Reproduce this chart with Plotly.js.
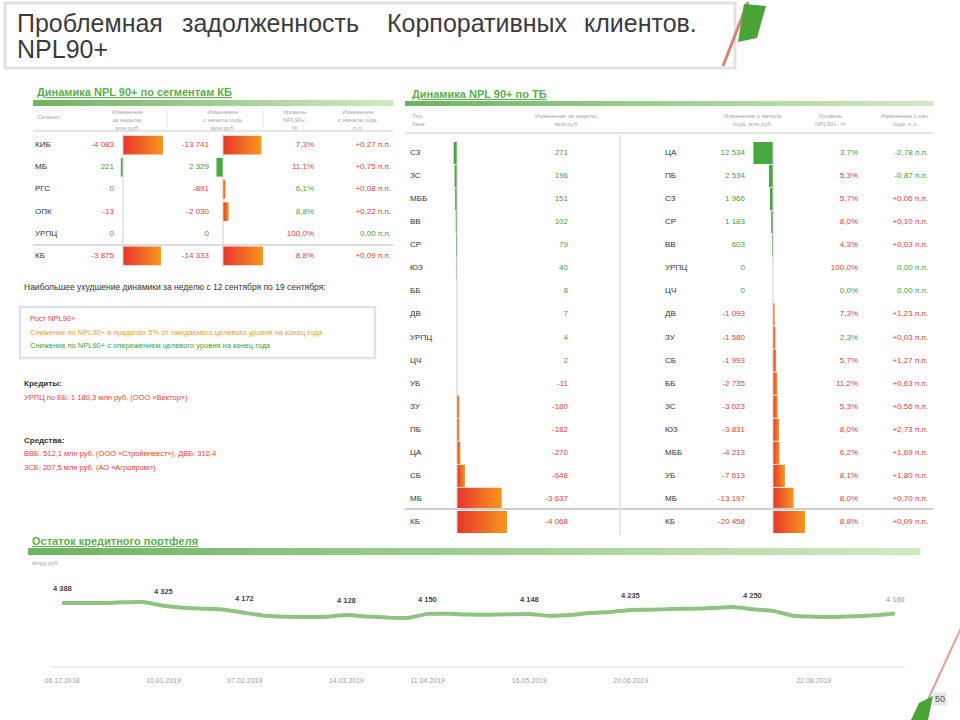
<!DOCTYPE html>
<html>
<head>
<meta charset="utf-8">
<script src="https://cdn.plot.ly/plotly-3.0.1.min.js"></script>
<style>
html, body { margin: 0; padding: 0; background: #fff; }
#chart_div { width: 960px; height: 720px; }
</style>
</head>
<body>
<div id="chart_div"></div>
<script>
// ---- segment table (Динамика NPL 90+ по сегментам КБ)
var segLabels = ['КИБ', 'МБ', 'РГС', 'ОПК', 'УРПЦ', 'КБ'];
var segWeek = [-4083, 221, 0, -13, 0, -3875];
var segYtd = [-13741, 2329, -891, -2030, 0, -14333];
var segShare = [7.3, 11.1, 6.1, 8.8, 100.0, 8.8];
var segShareGood = [0, 0, 1, 1, 0, 0];
var segShareChg = [0.27, 0.75, 0.08, 0.22, 0.00, 0.09];

// ---- territorial banks table (Динамика NPL 90+ по ТБ)
var tbWeekLabels = ['СЗ', 'ЗС', 'МББ', 'ВВ', 'СР', 'ЮЗ', 'ББ', 'ДВ', 'УРПЦ', 'ЦЧ', 'УБ', 'ЗУ', 'ПБ', 'ЦА', 'СБ', 'МБ', 'КБ'];
var tbWeek = [271, 196, 151, 102, 79, 40, 8, 7, 4, 2, -11, -180, -182, -270, -648, -3637, -4068];
var tbYtdLabels = ['ЦА', 'ПБ', 'СЗ', 'СР', 'ВВ', 'УРПЦ', 'ЦЧ', 'ДВ', 'ЗУ', 'СБ', 'ББ', 'ЗС', 'ЮЗ', 'МББ', 'УБ', 'МБ', 'КБ'];
var tbYtd = [12534, 2534, 1966, 1183, 603, 0, 0, -1093, -1580, -1993, -2735, -3023, -3831, -4213, -7613, -13197, -20458];
var tbShare = [3.7, 5.3, 5.7, 8.0, 4.3, 100.0, 0.0, 7.3, 2.3, 5.7, 11.2, 5.3, 8.0, 6.2, 8.1, 8.0, 8.8];
var tbShareGood = [1, 0, 0, 0, 0, 0, 1, 0, 1, 0, 0, 0, 0, 0, 0, 0, 0];
var tbShareChg = [-2.78, -0.87, 0.06, 0.10, 0.03, 0.00, 0.00, 1.23, 0.03, 1.27, 0.63, 0.56, 2.73, 1.69, 1.80, 0.70, 0.09];

// ---- loan portfolio (Остаток кредитного портфеля), млрд руб.
var portfolioDates = ['06.12.2018', '13.12.2018', '20.12.2018', '27.12.2018', '03.01.2019', '10.01.2019',
  '17.01.2019', '24.01.2019', '31.01.2019', '07.02.2019', '14.02.2019', '21.02.2019', '28.02.2019',
  '07.03.2019', '14.03.2019', '21.03.2019', '28.03.2019', '04.04.2019', '11.04.2019', '18.04.2019',
  '25.04.2019', '02.05.2019', '09.05.2019', '16.05.2019', '23.05.2019', '30.05.2019', '06.06.2019',
  '13.06.2019', '20.06.2019', '27.06.2019', '04.07.2019', '11.07.2019', '18.07.2019', '25.07.2019',
  '01.08.2019', '08.08.2019', '15.08.2019', '22.08.2019', '29.08.2019', '05.09.2019', '12.09.2019', '19.09.2019'];
var portfolioValues = [4388, 4385, 4384, 4402, 4405, 4325, 4282, 4262, 4238, 4172, 4110, 4088, 4085,
  4090, 4128, 4092, 4070, 4063, 4150, 4152, 4135, 4131, 4140, 4148, 4108, 4125, 4170, 4190, 4235,
  4240, 4255, 4262, 4275, 4298, 4250, 4215, 4110, 4090, 4085, 4100, 4120, 4160];
var portfolioLabelDates = ['06.12.2018', '10.01.2019', '07.02.2019', '14.03.2019', '11.04.2019',
  '16.05.2019', '20.06.2019', '01.08.2019', '19.09.2019'];
var portfolioTickDates = ['06.12.2018', '10.01.2019', '07.02.2019', '14.03.2019', '11.04.2019',
  '16.05.2019', '20.06.2019', '22.08.2019'];

var FONT = 'Liberation Sans, Arial, sans-serif';
var RED = '#e8403a', GREEN = '#3fa33a', DARK = '#333333', GREY = '#a8a8a8';

function px(x) { return x / 960; }
function py(y) { return 1 - y / 720; }
function idx(arr) { return arr.map(function (_, i) { return i; }); }
function fmtNum(v) {
  var s = Math.abs(v).toString().replace(/\B(?=(\d{3})+(?!\d))/g, ' ');
  return (v < 0 ? '-' : '') + s;
}
function fmtPct(v) { return v.toFixed(1).replace('.', ',') + '%'; }
function fmtPp(v) { return (v > 0 ? '+' : '') + v.toFixed(2).replace('.', ',') + ' п.п.'; }
function signColors(arr) { return arr.map(function (v) { return v >= 0 ? GREEN : RED; }); }
function ppColors(arr) { return arr.map(function (v) { return v > 0 ? RED : GREEN; }); }
function flagColors(arr) { return arr.map(function (f) { return f ? GREEN : RED; }); }

var data = [];

function textCol(xPos, ya, texts, colors, pos) {
  data.push({
    type: 'scatter', mode: 'text', xaxis: 'x', yaxis: ya,
    x: texts.map(function () { return xPos; }), y: idx(texts),
    text: texts, textposition: pos,
    textfont: { family: FONT, size: 8, color: colors },
    hoverinfo: 'skip', cliponaxis: false
  });
}

function bars(values, xa, ya, half) {
  values.forEach(function (v, i) {
    if (v === 0) return;
    var t = {
      type: 'scatter', mode: 'lines', xaxis: xa, yaxis: ya,
      x: [0, v, v, 0, 0], y: [i - half, i - half, i + half, i + half, i - half],
      fill: 'toself', line: { width: 0, color: 'rgba(0,0,0,0)' }, hoverinfo: 'skip'
    };
    if (v > 0) {
      t.fillcolor = '#46a83f';
    } else {
      // red next to the zero line, orange at the tip
      t.fillcolor = '#ee5a28';
      t.fillgradient = { type: 'horizontal', colorscale: [[0, '#e8352b'], [1, '#f7961e']] };
    }
    data.push(t);
  });
}

function barAxis(x0, zero, x1, widthPx, values, ya) {
  var maxAbs = Math.max.apply(null, values.map(Math.abs));
  var ppu = widthPx / maxAbs;
  return { domain: [px(x0), px(x1)], range: [(zero - x0) / ppu, -(x1 - zero) / ppu],
           anchor: ya, visible: false, fixedrange: true };
}

// left table
bars(segWeek, 'x2', 'y', 0.42);
bars(segYtd, 'x3', 'y', 0.42);
textCol(35, 'y', segLabels, DARK, 'middle right');
textCol(114, 'y', segWeek.map(fmtNum), signColors(segWeek), 'middle left');
textCol(209, 'y', segYtd.map(fmtNum), signColors(segYtd), 'middle left');
textCol(314, 'y', segShare.map(fmtPct), flagColors(segShareGood), 'middle left');
textCol(391, 'y', segShareChg.map(fmtPp), ppColors(segShareChg), 'middle left');

// right table
bars(tbWeek, 'x4', 'y2', 0.48);
bars(tbYtd, 'x5', 'y2', 0.48);
textCol(410, 'y2', tbWeekLabels, DARK, 'middle right');
textCol(568, 'y2', tbWeek.map(fmtNum), signColors(tbWeek), 'middle left');
textCol(665, 'y2', tbYtdLabels, DARK, 'middle right');
textCol(745, 'y2', tbYtd.map(fmtNum), signColors(tbYtd), 'middle left');
textCol(858, 'y2', tbShare.map(fmtPct), flagColors(tbShareGood), 'middle left');
textCol(928, 'y2', tbShareChg.map(fmtPp), ppColors(tbShareChg), 'middle left');

// portfolio line
data.push({
  type: 'scatter', mode: 'lines', xaxis: 'x6', yaxis: 'y3',
  x: portfolioDates, y: portfolioValues,
  line: { color: '#8dc482', width: 4, shape: 'spline', smoothing: 0.5 },
  hoverinfo: 'skip', cliponaxis: false
});

var shapes = [];
var annotations = [];

function rect(x0, y0, x1, y1, fill, lineColor, lw) {
  shapes.push({ type: 'rect', xref: 'paper', yref: 'paper', x0: px(x0), x1: px(x1), y0: py(y0), y1: py(y1),
    fillcolor: fill, line: { color: lineColor || 'rgba(0,0,0,0)', width: lw || 0 }, layer: 'below' });
}
function line(x0, y0, x1, y1, color, w) {
  shapes.push({ type: 'line', xref: 'paper', yref: 'paper', x0: px(x0), x1: px(x1), y0: py(y0), y1: py(y1),
    line: { color: color, width: w } });
}
function path(d, fill) {
  var p = d.replace(/(-?\d+(\.\d+)?) (-?\d+(\.\d+)?)/g, function (m, a, b, c) {
    return px(+a).toFixed(5) + ',' + py(+c).toFixed(5);
  });
  shapes.push({ type: 'path', xref: 'paper', yref: 'paper', path: p, fillcolor: fill, line: { width: 0 } });
}
function band(x0, x1, y0, y1) {
  var n = 24, c0 = [112, 180, 98], c1 = [208, 232, 194];
  for (var k = 0; k < n; k++) {
    var t = k / (n - 1);
    var c = c0.map(function (v, j) { return Math.round(v + (c1[j] - v) * t); });
    rect(x0 + (x1 - x0) * k / n, y0, x0 + (x1 - x0) * (k + 1) / n + 0.5, y1, 'rgb(' + c.join(',') + ')');
  }
}
function note(text, x, y, opts) {
  opts = opts || {};
  annotations.push({
    xref: 'paper', yref: 'paper', x: px(x), y: py(y), text: text, showarrow: false,
    xanchor: opts.xanchor || 'left', yanchor: opts.yanchor || 'middle', align: opts.align || 'left',
    font: { family: FONT, size: opts.size || 8, color: opts.color || DARK }
  });
}

// title box and decorations
rect(5, 3, 735, 68, '#ffffff', '#e2e2e2', 3);
var titleWords = [['Проблемная', 15], ['задолженность', 180], ['Корпоративных', 385], ['клиентов.', 582]];
titleWords.forEach(function (w) { note(w[0], w[1], 23, { size: 25, color: '#3c3c3c' }); });
note('NPL90+', 15, 49, { size: 25, color: '#3c3c3c' });
line(748, 2, 723, 66, '#d9826f', 3);
path('M 744 4 L 766 6 L 757 38 L 738 42 Z', '#4aa336');
line(962, 626, 925, 706, '#e3a090', 2);
path('M 911 720 L 919 703 L 933 696 L 928 720 Z', '#4aa336');
annotations.push({ xref: 'paper', yref: 'paper', x: px(947), y: py(706), text: '50', showarrow: false,
  font: { family: FONT, size: 9, color: '#555' }, bgcolor: '#e4e4e4' });

// section headers
band(33, 393, 100, 106);
note('<b><u>Динамика NPL 90+ по сегментам КБ</u></b>', 35, 92, { size: 11, color: '#5cae4c' });
band(405, 933, 101, 106);
note('<b><u>Динамика NPL 90+ по ТБ</u></b>', 410, 94, { size: 11, color: '#5cae4c' });
band(28, 920, 548, 555);
note('<b><u>Остаток кредитного портфеля</u></b>', 30, 541, { size: 11, color: '#5cae4c' });

// left table headers and lines
var hs = { size: 6, color: GREY, xanchor: 'center', align: 'center' };
note('Сегмент', 35, 117, { size: 6, color: GREY });
note('Изменение<br>за неделю,<br>млн руб.', 128, 120, hs);
note('Изменение<br>с начала года,<br>млн руб.', 223, 120, hs);
note('Уровень<br>NPL90+,<br>%', 295, 120, hs);
note('Изменение<br>с начала года,<br>п.п.', 358, 120, hs);
line(33, 131, 393, 131, '#dcdcdc', 1.5);
line(33, 245, 393, 245, '#d0d0d0', 1.5);
line(123, 134, 123, 267, '#cfcfcf', 1);
line(223, 134, 223, 267, '#cfcfcf', 1);
line(167, 110, 167, 128, '#e3e3e3', 1);
line(263, 110, 263, 128, '#e3e3e3', 1);

// right table headers and lines
note('Тер.<br>банк', 410, 120, { size: 6, color: GREY });
note('Изменение за неделю,<br>млн руб.', 567, 120, hs);
note('Изменение с начала<br>года, млн руб.', 753, 120, hs);
note('Уровень<br>NPL90+, %', 830, 120, hs);
note('Изменение с нач.<br>года, п.п.', 905, 120, hs);
line(405, 133, 933, 133, '#dcdcdc', 1.5);
line(405, 509, 933, 509, '#cfcfcf', 2);
line(620, 135, 620, 535, '#e0e0e0', 1.5);
line(457, 141, 457, 534, '#cfcfcf', 1);
line(773, 141, 773, 534, '#cfcfcf', 1);

// commentary block
note('Наибольшее ухудшение динамики за неделю с 12 сентября по 19 сентября:', 22, 287, { size: 8.5 });
rect(20, 307, 375, 358, '#ffffff', '#dbe4ed', 2.5);
note('Рост NPL90+', 28, 318, { size: 7.5, color: RED });
note('Снижение по NPL90+ в пределах 5% от ожидаемого целевого уровня на конец года', 28, 332, { size: 7.5, color: '#f0a030' });
note('Снижение по NPL90+ с опережением целевого уровня на конец года', 28, 345, { size: 7.5, color: GREEN });
note('<b>Кредиты:</b>', 22, 383, { size: 8 });
note('УРПЦ по ББ: 1 180,3 млн руб. (ООО «Вектор»)', 22, 397, { size: 7.5, color: RED });
note('<b>Средства:</b>', 22, 440, { size: 8 });
note('ВВБ: 512,1 млн руб. (ООО «Стройинвест»), ДВБ: 310,4', 22, 453, { size: 7.5, color: RED });
note('ЗСБ: 207,5 млн руб. (АО «Агропром»)', 22, 467, { size: 7.5, color: RED });

// portfolio chart extras
note('млрд руб.', 30, 563, { size: 6, color: GREY });
line(50, 667, 905, 667, '#e8e8e8', 1.5);
portfolioLabelDates.forEach(function (d, k) {
  var v = portfolioValues[portfolioDates.indexOf(d)];
  annotations.push({
    xref: 'x6', yref: 'y3', x: d, y: v, yshift: 14, showarrow: false, text: '<b>' + fmtNum(v) + '</b>',
    font: { family: FONT, size: 7.5, color: k === portfolioLabelDates.length - 1 ? '#b5b5b5' : '#444' }
  });
});

var layout = {
  width: 960, height: 720,
  margin: { l: 0, r: 0, t: 0, b: 0 },
  paper_bgcolor: '#ffffff', plot_bgcolor: 'rgba(0,0,0,0)',
  showlegend: false, hovermode: false,
  xaxis: { domain: [0, 1], range: [0, 960], visible: false, anchor: 'y', fixedrange: true },
  yaxis: { domain: [py(267), py(134)], range: [5.5, -0.5], visible: false, anchor: 'x' },
  yaxis2: { domain: [py(533.5), py(141.5)], range: [16.5, -0.5], visible: false, anchor: 'x' },
  xaxis2: barAxis(110, 123, 175, 40, segWeek, 'y'),
  xaxis3: barAxis(210, 223, 275, 40, segYtd, 'y'),
  xaxis4: barAxis(445, 457, 525, 50, tbWeek, 'y2'),
  xaxis5: barAxis(748, 773, 830, 32, tbYtd, 'y2'),
  xaxis6: {
    domain: [px(62), px(895)], anchor: 'y3', type: 'category', range: [0, portfolioDates.length - 1],
    showgrid: false, zeroline: false, showline: false, ticks: '',
    tickvals: portfolioTickDates, ticktext: portfolioTickDates, tickangle: 0, ticklabelstandoff: 8,
    tickfont: { family: FONT, size: 7, color: '#a0a0a0' }
  },
  yaxis3: { domain: [py(667), py(570)], range: [3000, 5100], visible: false, anchor: 'x6' },
  shapes: shapes,
  annotations: annotations
};

Plotly.newPlot('chart_div', data, layout, { displayModeBar: false, staticPlot: true });
</script>
</body>
</html>
